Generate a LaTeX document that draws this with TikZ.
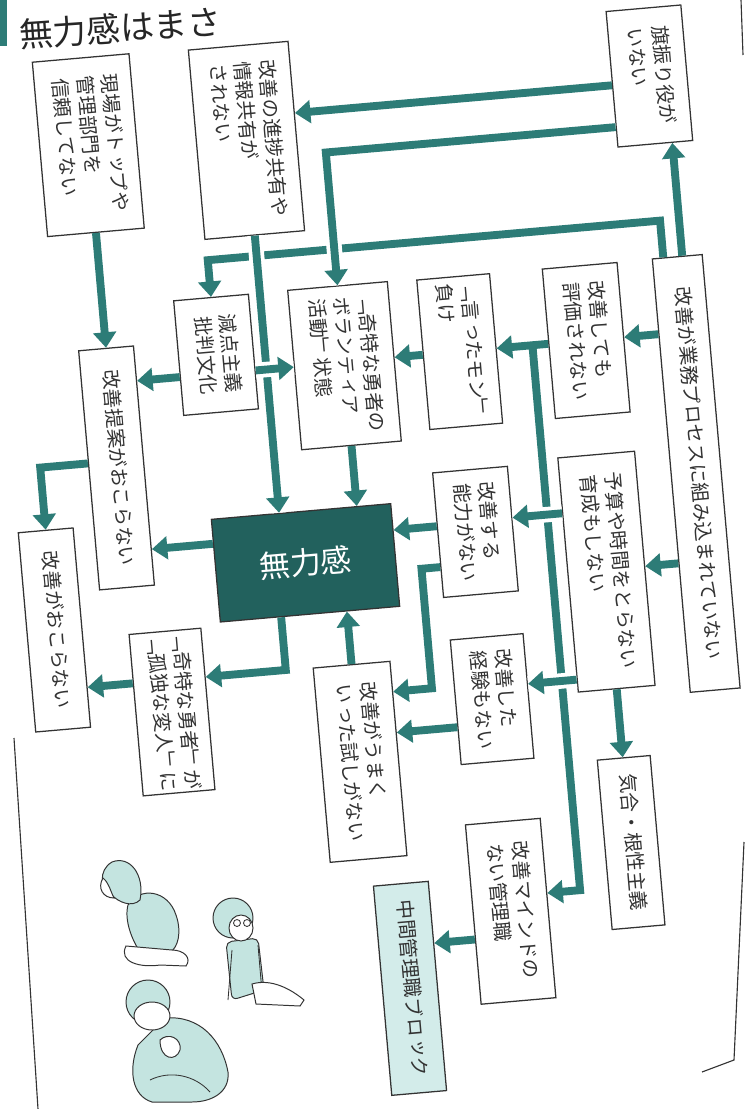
\documentclass[tikz,border=0pt]{standalone}
\usepackage{fontspec}
\usepackage{tikz}
\usetikzlibrary{positioning}
\usetikzlibrary{arrows.meta}
\setmainfont{Noto Sans CJK JP}
\newfontfamily\yokofont{Noto Sans CJK JP}
\newfontfamily\tatefont[Vertical=RotatedGlyphs]{Noto Sans CJK JP}
\definecolor{flowteal}{HTML}{2D7C77}
\definecolor{deepteal}{HTML}{22615D}
\definecolor{paleteal}{HTML}{D3ECEA}
\definecolor{figteal}{HTML}{C4E4E0}
\definecolor{inkgray}{HTML}{333333}
% vertical columns, first line is the rightmost column
\newcommand\vcol[1]{\rotatebox{-90}{\tatefont\fontsize{14}{17.5}\selectfont\begin{tabular}{@{}l@{}}#1\end{tabular}}}
\tikzset{
  cause/.style={draw=inkgray, fill=white, line width=0.9pt, inner sep=0pt, text=inkgray},
  wh/.style 2 args={minimum width=#1*0.025cm, minimum height=#2*0.025cm},
  flow/.style={draw=flowteal, line width=5.6pt, -{Triangle[length=11pt,width=16pt]}},
  over/.style={preaction={draw=white, line width=11pt, arrows=-}},
  figure/.style={draw=inkgray, fill=figteal, line width=0.7pt},
  skin/.style={draw=inkgray, fill=white, line width=0.7pt},
}

\begin{document}
\begin{tikzpicture}[x=0.025cm,y=-0.025cm]
\useasboundingbox (0,0) rectangle (744,1109);
\fill[white] (0,0) rectangle (744,1109);

% heading
\fill[flowteal] (0,0) rectangle (7,46);
\node[anchor=south west, inner sep=0pt, rotate=4, text=black!85,
      font=\yokofont\fontsize{24}{24}\selectfont] (title) at (20,51) {無力感はまさ};

\begin{scope}[transform canvas={rotate around={5:(372,554)}}]
\node[cause, wh={97}{175}] (A) at (125,122) {\vcol{現場がトップや\\管理部門を\\信頼してない}};
\node[cause, wh={100}{190}] (B) at (283,131) {\vcol{改善の進捗共有や\\情報共有が\\されない}};
\node[cause, wh={75}{136}] (C) at (690,102) {\vcol{旗振り役が\\いない}};
\node[cause, wh={50}{435}] (D) at (702,502) {\vcol{改善が業務プロセスに組み込まれていない}};
\node[cause, wh={75}{150}] (E) at (604,360) {\vcol{改善しても\\評価されない}};
\node[cause, wh={73}{150}] (G) at (477,360) {\vcol{「言ったモン」\\負け}};
\node[cause, wh={100}{160}] (H) at (361,364) {\vcol{「奇特な勇者の\\ボランティア\\活動」状態}};
\node[cause, wh={75}{115}] (I) at (234,342) {\vcol{減点主義\\批判文化}};
\node[cause, wh={55}{240}] (J) at (125,446) {\vcol{改善提案がおこらない}};
\node[cause, wh={180}{103}, fill=deepteal, text=white,
      font=\yokofont\fontsize{22}{22}\selectfont] (Z) at (305,557) {無力感};
\node[cause, wh={75}{125}] (L) at (477,541) {\vcol{改善する\\能力がない}};
\node[cause, wh={77}{235}] (F) at (604,592) {\vcol{予算や時間をとらない\\育成もしない}};
\node[cause, wh={55}{200}] (K) at (49,602) {\vcol{改善がおこらない}};
\node[cause, wh={72}{162}] (M) at (159,694) {\vcol{「奇特な勇者」が\\「孤独な変人」に}};
\node[cause, wh={77}{195}] (N) at (342,760) {\vcol{改善がうまく\\いった試しがない}};
\node[cause, wh={73}{125}] (O) at (479,709) {\vcol{改善した\\経験もない}};
\node[cause, wh={75}{180}] (P) at (479,922) {\vcol{改善マインドの\\ない管理職}};
\node[cause, wh={55}{210}, fill=paleteal] (Q) at (372,990) {\vcol{中間管理職ブロック}};
\node[cause, wh={53}{170}] (R) at (605,864) {\vcol{気合・根性主義}};
\coordinate (hub) at (550,360);
\coordinate (lbend) at (420,693);

% feedback from the top
\draw[flow] (D.north -| 688,0) |- (I.north |- 0,247) -- (I.north);
\draw[flow] (D.north -| 707,0) -- (C.south -| 707,0);
\draw[flow] (C.west |- 0,108) -- (B.east |- 0,108);
\draw[flow,over] (C.west |- 0,150) -| (H.north);
\draw[flow,over] (B.south) -- (B.south |- Z.north);
\draw[flow] (A.south) -- (J.north);
\draw[flow,over] (I.east |- 0,361) -- (H.west |- 0,361);
\draw[flow] (I.west |- 0,361) -- (J.east |- 0,361);
\draw[flow] (H.south) -- (H.south |- Z.north);
% right column
\draw[flow] (D.west |- E.east) -- (E.east);
\draw[flow] (E.west) -- (G.east |- E.west);
\draw[flow] (G.west) -- (H.east |- G.west);
\draw[flow] (D.west |- 0,590) -- (F.east |- 0,590);
\draw[flow] (hub) |- (P.east |- 0,907);
\draw[flow,over] (F.west |- 0,530) -- (L.east |- 0,530);
\draw[flow,over] (F.west |- 0,697) -- (O.east |- 0,697);
\draw[flow] (F.south) -- (F.south |- R.north);
\draw[flow] (L.west |- 0,532) -- (Z.east |- 0,532);
\draw[flow] (L.west |- 0,573) -| (lbend) -- (N.east |- lbend);
\draw[flow] (O.west |- 0,734) -- (N.east |- 0,734);
\draw[flow] (N.north) -- (N.north |- Z.south);
\draw[flow] (P.west |- 0,947) -- (Q.east |- 0,947);
% left side
\draw[flow] (Z.west |- 0,530) -- (J.east |- 0,530);
\draw[flow] (J.west |- 0,439) -| (K.north);
\draw[flow] (Z.south -| 276,0) |- (M.east |- 0,662);
\draw[flow] (M.west |- 0,662) -- (K.east |- 0,662);
\end{scope}

% page edges
\draw[inkgray, line width=0.8pt] (14,738) -- (38,1109);
\draw[inkgray, line width=0.8pt] (744,842) -- (734,1060) -- (702,1072);
\draw[inkgray, line width=0.8pt] (741,0) -- (743,55);

% three people sitting on the floor
% kneeling, head down
\filldraw[figure] (128,905) .. controls (140,886) and (168,890) .. (176,915)
  .. controls (182,932) and (178,948) .. (170,952) -- (140,952)
  .. controls (132,940) and (124,920) .. (128,905) -- cycle;
\filldraw[skin] (126,946) .. controls (118,962) and (140,968) .. (160,965)
  -- (186,966) .. controls (192,958) and (184,950) .. (172,950) -- cycle;
\filldraw[figure] (112,862) .. controls (130,855) and (145,875) .. (140,900)
  .. controls (132,908) and (118,902) .. (112,895)
  .. controls (100,890) and (98,870) .. (112,862) -- cycle;
\filldraw[skin] (103,878) .. controls (97,888) and (103,898) .. (114,898)
  .. controls (110,890) and (109,883) .. (103,878) -- cycle;
% leaning back, glasses
\filldraw[figure, rounded corners=4] (226,942) -- (258,938) -- (264,990) -- (232,1000) -- cycle;
\draw[inkgray, line width=0.6pt] (232,950) -- (228,1000) (258,945) -- (262,992);
\filldraw[skin] (252,984) .. controls (272,978) and (292,990) .. (304,1000)
  -- (300,1006) -- (256,1004) -- cycle;
\filldraw[figure] (233,918) circle (20);
\filldraw[skin] (241,928) ellipse (12 and 13);
\draw[inkgray, line width=0.6pt] (237,923) circle (3.5) (247,923) circle (3.5);
% crouching, chin on hands
\filldraw[figure] (165,1018) .. controls (200,1015) and (222,1040) .. (228,1072)
  .. controls (230,1092) and (212,1102) .. (192,1102) -- (152,1102)
  .. controls (132,1096) and (128,1070) .. (138,1045) -- cycle;
\draw[inkgray, line width=0.6pt] (150,1080) .. controls (170,1070) and (195,1075) .. (210,1092);
\filldraw[figure] (148,1002) circle (22);
\filldraw[skin] (152,1016) ellipse (18 and 14);
\filldraw[skin] (160,1040) .. controls (168,1032) and (182,1038) .. (180,1050)
  .. controls (176,1062) and (160,1060) .. (160,1040) -- cycle;
\end{tikzpicture}
\end{document}
